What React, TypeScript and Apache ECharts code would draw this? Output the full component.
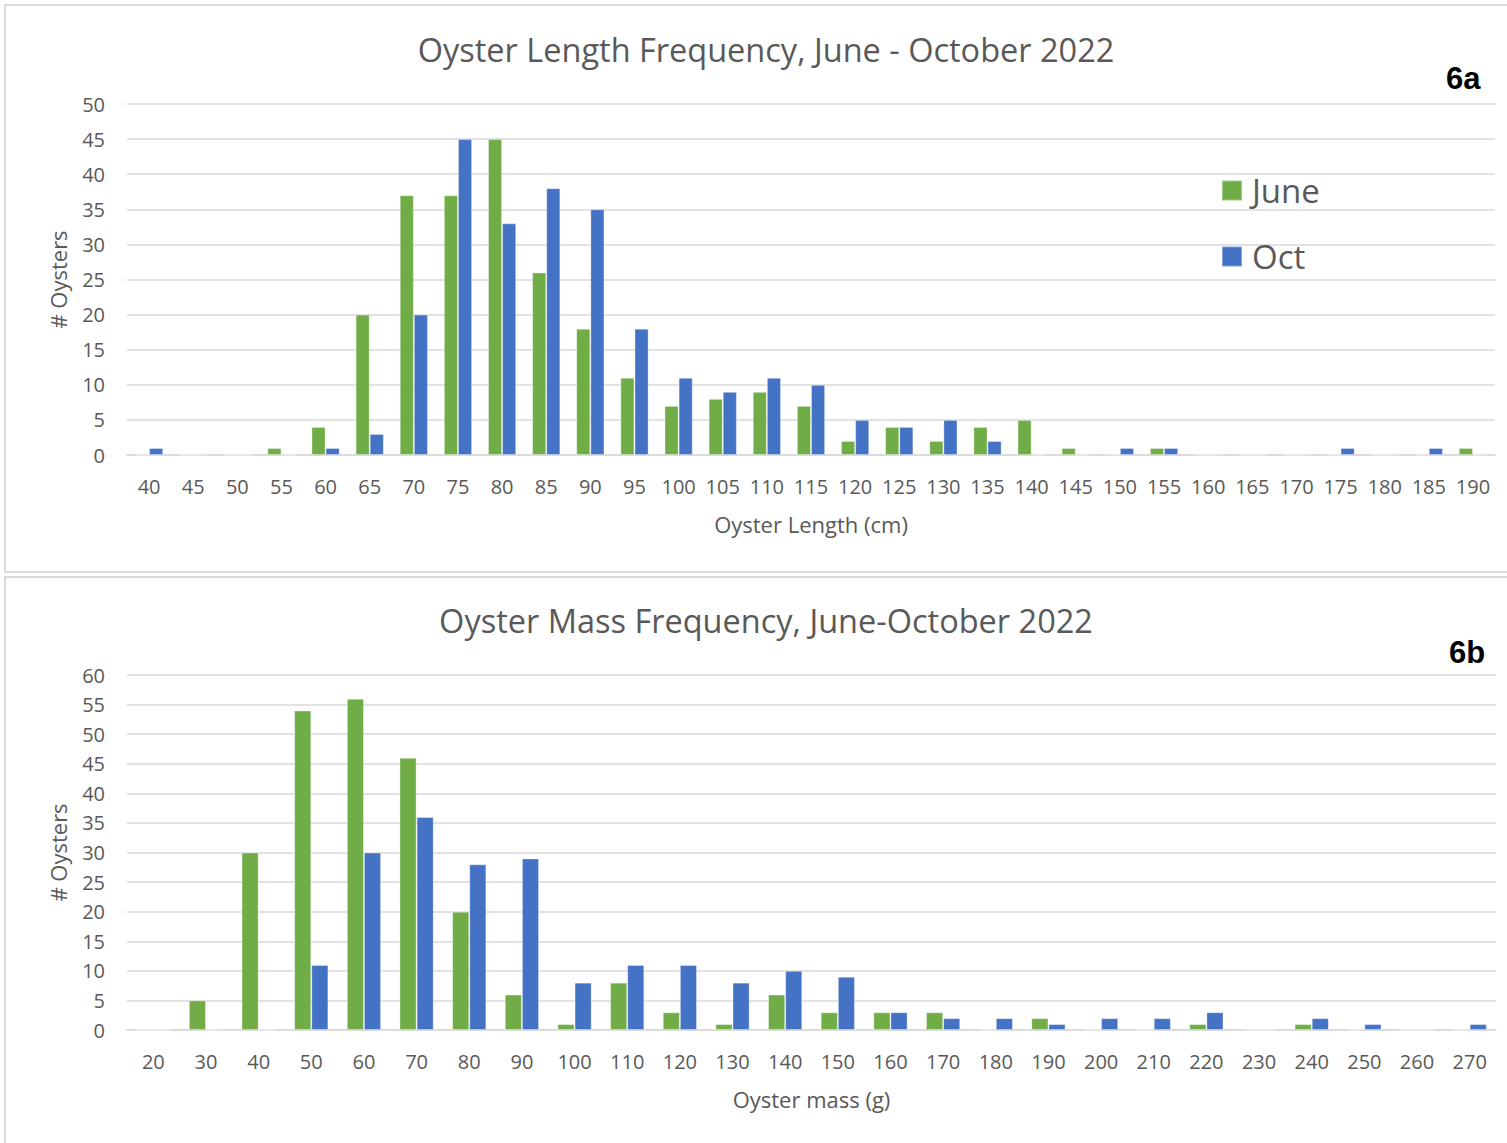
import React, { useEffect, useRef } from "react";
import * as echarts from "echarts";

const lengthCats = ["40","45","50","55","60","65","70","75","80","85","90","95","100","105","110","115","120","125","130","135","140","145","150","155","160","165","170","175","180","185","190"];
const lengthJune = [0,0,0,1,4,20,37,37,45,26,18,11,7,8,9,7,2,4,2,4,5,1,0,1,0,0,0,0,0,0,1];
const lengthOct = [1,0,0,0,1,3,20,45,33,38,35,18,11,9,11,10,5,4,5,2,0,0,1,1,0,0,0,1,0,1,0];

const massCats = ["20","30","40","50","60","70","80","90","100","110","120","130","140","150","160","170","180","190","200","210","220","230","240","250","260","270"];
const massJune = [0,5,30,54,56,46,20,6,1,8,3,1,6,3,3,3,0,2,0,0,1,0,1,0,0,0];
const massOct = [0,0,0,11,30,36,28,29,8,11,11,8,10,9,3,2,2,1,2,2,3,0,2,1,0,1];

const GREEN = "#70AD47";
const BLUE = "#4472C4";
const TEXT = "#595959";
const GRID = "#d9d9d9";
const FONT = "'Open Sans', sans-serif";

export default function App() {
  const ref = useRef<HTMLDivElement>(null);
  useEffect(() => {
    if (!ref.current) return;
    const chart = echarts.init(ref.current, undefined, { renderer: "svg" });
    const xAxisBase = (cats: string[], name: string, gridIndex: number) => ({
      type: "category",
      gridIndex,
      data: cats,
      name,
      nameLocation: "middle",
      nameGap: 58,
      nameTextStyle: { color: TEXT, fontSize: 22, fontFamily: FONT },
      axisLine: { show: true, lineStyle: { color: GRID, width: 1.5 } },
      axisTick: { show: false },
      axisLabel: { color: TEXT, fontSize: 20, fontFamily: FONT, margin: 21, interval: 0 },
    });
    const yAxisBase = (max: number, gridIndex: number) => ({
      type: "value",
      gridIndex,
      min: 0,
      max,
      interval: 5,
      name: "# Oysters",
      nameLocation: "middle",
      nameGap: 58,
      nameTextStyle: { color: TEXT, fontSize: 22, fontFamily: FONT },
      axisLine: { show: false },
      axisTick: { show: false },
      axisLabel: { color: TEXT, fontSize: 20, fontFamily: FONT, margin: 22 },
      splitLine: { lineStyle: { color: GRID, width: 1.5 } },
    });
    const bar = (name: string, data: number[], color: string, idx: number, gap: string) => ({
      type: "bar",
      name,
      data,
      xAxisIndex: idx,
      yAxisIndex: idx,
      barGap: "0%",
      barCategoryGap: gap,
      itemStyle: { color, borderColor: "rgba(255,255,255,0.35)", borderWidth: 1 },
    });
    chart.setOption({
      animation: false,
      backgroundColor: "#ffffff",
      title: [
        { text: "Oyster Length Frequency, June - October 2022", left: 761, top: 28, textAlign: "center",
          textStyle: { color: TEXT, fontSize: 32.5, fontWeight: "normal", fontFamily: FONT } },
        { text: "Oyster Mass Frequency, June-October 2022", left: 761, top: 599, textAlign: "center",
          textStyle: { color: TEXT, fontSize: 32.5, fontWeight: "normal", fontFamily: FONT } },
      ],
      legend: {
        data: ["June", "Oct"],
        orient: "vertical",
        left: 1221,
        top: 174,
        padding: 0,
        itemWidth: 20,
        itemHeight: 20,
        itemGap: 33,
        icon: "rect",
        textStyle: { color: TEXT, fontSize: 33, lineHeight: 33, fontFamily: FONT, padding: [0, 0, 0, 5] },
      },
      grid: [
        { left: 127, right: 12, top: 104, height: 351 },
        { left: 127, right: 11, top: 675, height: 355 },
      ],
      xAxis: [xAxisBase(lengthCats, "Oyster Length (cm)", 0), xAxisBase(massCats, "Oyster mass (g)", 1)],
      yAxis: [yAxisBase(50, 0), yAxisBase(60, 1)],
      series: [
        bar("June", lengthJune, GREEN, 0, "36%"),
        bar("Oct", lengthOct, BLUE, 0, "36%"),
        bar("June", massJune, GREEN, 1, "35%"),
        bar("Oct", massOct, BLUE, 1, "35%"),
      ],
      graphic: [
        { type: "rect", z: -1, shape: { x: 5, y: 5, width: 1510, height: 567 }, style: { fill: "none", stroke: "#d9d9d9", lineWidth: 2 } },
        { type: "rect", z: -1, shape: { x: 5, y: 577, width: 1510, height: 580 }, style: { fill: "none", stroke: "#d9d9d9", lineWidth: 2 } },
        { type: "text", x: 1446, y: 63, style: { text: "6a", fill: "#000", font: "bold 31px 'Liberation Sans', Arial, sans-serif" } },
        { type: "text", x: 1449, y: 637, style: { text: "6b", fill: "#000", font: "bold 31px 'Liberation Sans', Arial, sans-serif" } },
      ],
    });
    return () => chart.dispose();
  }, []);
  return <div ref={ref} style={{ position: "absolute", left: 0, top: 0, width: 1507, height: 1143 }} />;
}
